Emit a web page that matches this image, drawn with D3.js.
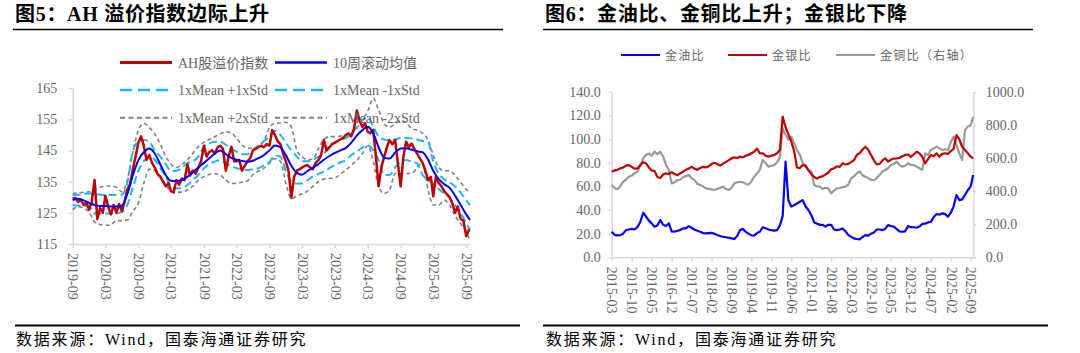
<!DOCTYPE html>
<html>
<head>
<meta charset="utf-8">
<script src="https://cdn.jsdelivr.net/npm/d3@7"></script>
<style>
  body { margin: 0; background: #fff; }
  svg text { font-family: "Liberation Serif", "Noto Sans CJK SC", serif; }
  .tick text { font-size: 14px; fill: #666; }
  .axis path, .axis line { stroke: #d9d9d9; stroke-width: 1.5; }
  .legend-text { font-size: 14px; fill: #666; }
  .legend-text-r { font-size: 12px; fill: #666; letter-spacing: 1.3px; }
  .title { font-size: 20px; font-weight: bold; fill: #000; letter-spacing: 0.7px; }
  .source { font-size: 16px; fill: #000; letter-spacing: 1.8px; }
</style>
</head>
<body>
<div id="chart"></div>
<script>
// ---------- Fig 5: AH premium index (2019-09 .. 2025-09) ----------
// red series, two readings per month (1st, 16th) + last print
const ahIndex = [
  129.5,129.8, 128.5,129.2, 127.5,128.3, 126.0,128.5,
  135.5,123.0, 126.5,125.0, 130.5,127.0, 124.5,127.5, 125.0,127.8, 125.5,128.5, 132.5,134.0, 139.0,143.0, 147.5,149.5, 146.5,142.0, 143.5,141.0, 139.5,137.5,
  136.5,135.0, 133.5,134.5, 132.0,131.5, 135.5,134.0, 136.0,135.5, 140.5,137.0, 138.5,137.5, 139.5,141.5, 146.5,143.0, 144.5,145.0, 144.0,146.0, 146.5,145.5,
  138.5,143.0, 146.2,141.5, 141.5,142.0, 138.5,140.0, 141.5,142.5, 145.0,145.5, 146.0,146.5, 146.0,147.0, 146.5,151.5, 150.0,148.0, 147.0,144.0, 141.5,138.5,
  129.8,136.5, 138.5,139.0, 139.5,140.0, 140.3,139.5, 139.0,141.0, 141.9,143.5, 148.3,145.0, 146.0,147.0, 147.5,148.0, 148.5,149.0, 150.0,150.5, 149.5,152.0,
  157.8,154.5, 152.5,153.7, 151.0,150.5, 151.5,143.0, 133.5,139.5, 143.0,146.0, 148.3,147.0, 148.3,141.0, 133.5,143.0, 147.8,146.0, 147.2,145.5, 144.0,142.5,
  141.0,138.5, 135.5,136.5, 130.3,136.5, 134.5,133.5, 132.0,131.0, 130.0,128.0, 125.0,127.0, 123.0,122.5, 117.5,119.5,
  119.5
];
// monthly readings 2019-09 .. 2025-09 + last print
const ma10w = [
  129.1,129.5,129.0,128.2,
  127.5,127.2,127.2,127.0,127.0,127.3,131.0,137.0,141.9,144.4,145.6,144.0,
  140.5,137.0,135.3,135.2,135.5,136.5,138.0,139.5,141.0,142.5,144.0,145.0,
  143.8,142.6,142.0,141.6,141.4,141.7,142.5,143.5,145.0,146.6,146.0,143.5,
  140.0,137.8,137.2,138.4,139.5,140.6,142.0,143.2,144.2,145.0,145.8,147.5,
  149.8,151.5,152.6,150.5,146.0,142.7,142.4,144.3,145.6,145.7,145.2,144.7,
  144.4,142.0,138.5,135.8,134.2,133.0,130.5,127.5,124.5,
  122.7
];
const plus1Std = [
  130.7,130.8,131.0,131.2,
  131.0,130.8,130.7,130.7,130.7,130.8,134.5,144.8,147.8,148.3,147.8,145.0,
  143.0,140.5,138.4,138.5,139.5,140.9,141.5,143.0,146.2,147.3,147.8,147.8,
  146.8,145.5,144.6,143.8,143.8,145.1,146.5,148.0,149.4,151.3,150.0,147.5,
  145.0,143.0,141.5,141.5,142.0,143.0,144.0,146.5,147.5,148.3,149.0,150.2,
  152.5,154.7,155.8,152.6,149.5,148.5,148.3,148.5,149.0,149.0,148.8,148.5,
  148.0,147.5,141.5,137.5,135.8,134.8,133.4,131.5,129.0,
  127.5
];
const minus1Std = [
  127.5,127.3,127.2,127.0,
  124.8,124.8,124.8,124.8,124.8,125.3,127.5,133.0,138.5,141.5,143.0,142.0,
  139.3,136.5,133.6,132.8,133.0,133.9,135.5,137.2,139.3,140.6,141.4,141.9,
  140.8,140.0,139.3,139.0,138.7,139.0,139.3,140.2,141.3,143.3,143.0,138.5,
  135.0,134.4,134.4,135.5,136.6,137.5,138.2,139.3,140.3,141.2,141.9,143.5,
  144.6,146.0,146.7,145.0,141.9,137.1,137.1,139.5,141.4,141.9,141.4,140.9,
  137.1,135.5,134.4,132.6,131.2,129.8,127.5,125.0,121.6,
  119.5
];
const plus2Std = [
  131.2,131.4,131.6,131.7,
  132.5,133.2,133.6,133.5,133.2,131.7,135.5,144.5,151.5,153.7,152.3,150.3,
  147.0,143.0,140.7,139.5,140.5,142.0,144.0,146.2,147.6,148.5,149.4,150.3,
  151.0,150.5,149.0,146.7,145.8,145.7,146.5,148.0,152.3,153.7,153.8,154.0,
  152.5,145.0,143.0,142.0,142.2,145.5,148.5,149.4,149.4,149.6,150.0,150.5,
  152.0,155.0,157.5,161.7,158.0,153.5,152.5,153.5,154.5,154.0,152.0,151.5,
  150.5,148.3,143.5,139.5,138.5,138.5,137.0,134.8,132.5,
  131.5
];
const minus2Std = [
  126.0,127.0,126.5,125.3,
  122.0,121.2,121.0,121.2,122.5,122.5,122.7,125.5,128.1,134.5,139.0,138.5,
  136.6,134.0,131.8,131.5,131.7,132.3,133.5,135.5,136.6,137.3,137.5,137.1,
  135.5,134.4,134.5,134.8,135.2,137.2,138.3,139.3,140.9,142.3,141.5,134.5,
  129.5,130.5,131.0,132.0,133.5,135.0,135.8,136.0,136.2,137.4,138.7,140.3,
  141.9,144.0,146.5,141.5,133.5,131.2,132.3,137.6,137.6,137.6,137.6,139.5,
  140.9,132.3,127.5,127.5,129.0,127.5,124.0,121.5,119.0,
  116.0
];
const leftXTicks = ["2019-09","2020-03","2020-09","2021-03","2021-09","2022-03","2022-09",
                    "2023-03","2023-09","2024-03","2024-09","2025-03","2025-09"];
const leftYTicks = [115, 125, 135, 145, 155, 165];

// ---------- Fig 6: gold ratios (2015-03 .. 2025-09, monthly + last print) ----------
const goldOil = [
  21.6,19.0,18.5,18.8,20.0,23.0,23.5,24.0,23.5,25.5,
  30.0,37.7,34.5,31.0,28.7,25.9,27.0,31.5,27.5,26.5,28.7,22.0,
  21.6,22.5,23.0,24.4,24.5,26.4,25.0,23.5,22.5,21.6,20.5,20.2,
  20.5,20.7,20.0,18.8,18.0,17.4,17.0,16.5,16.0,15.5,18.0,23.0,
  24.0,21.5,20.0,18.5,18.3,20.5,21.6,25.4,24.5,23.5,23.0,22.5,
  23.0,27.0,35.0,81.0,48.0,43.0,44.0,45.5,47.0,48.4,43.0,40.0,
  35.8,29.5,28.5,27.5,27.5,26.0,27.5,27.5,23.5,23.0,23.5,24.4,
  22.0,18.8,17.5,16.0,15.5,15.2,17.0,18.8,18.3,20.0,21.0,23.5,
  23.5,23.0,24.0,27.2,26.5,25.9,24.0,22.0,21.6,22.0,26.4,25.5,
  25.4,25.0,26.0,28.2,28.5,29.5,30.0,34.0,36.6,36.0,37.2,36.5,
  34.3,38.0,42.8,52.7,48.4,49.0,52.7,56.9,60.0,
  69.6
];
const goldSilver = [
  72.5,73.5,74.0,75.2,76.0,77.5,78.0,76.5,75.0,75.2,
  78.0,80.5,79.5,76.0,73.5,73.0,68.0,67.0,70.0,71.0,70.5,72.0,
  70.5,69.5,71.0,72.5,74.0,75.0,76.5,75.0,74.0,75.5,76.5,76.0,
  77.0,79.0,80.0,79.0,77.5,79.0,80.5,82.0,83.7,84.5,84.0,85.1,
  84.5,86.0,86.5,88.0,89.3,92.0,88.0,87.9,86.0,85.1,86.0,86.5,
  88.0,91.0,119.0,110.0,104.0,98.0,90.0,76.0,75.5,78.0,77.5,73.5,
  70.5,68.0,66.5,68.0,68.5,70.0,71.5,74.5,75.2,77.0,76.5,79.5,
  78.5,79.0,80.5,82.0,86.5,88.0,91.0,93.5,91.0,86.5,82.0,78.5,
  79.0,82.0,83.7,81.0,82.5,83.5,83.7,84.0,85.5,86.5,87.0,85.0,
  87.0,89.3,87.9,85.0,79.5,83.0,86.5,85.5,87.9,85.0,87.5,88.0,
  87.5,90.0,91.5,103.4,100.0,93.5,90.7,88.0,85.1,
  83.7
];
const goldCopper = [
  438,420,412,430,458,470,488,495,510,518,
  555,600,620,630,615,640,625,640,610,560,529,448,
  455,468,470,485,492,498,480,468,445,438,430,418,
  415,412,408,415,420,428,415,408,420,448,455,458,
  455,445,440,460,488,508,530,590,570,549,555,559,
  575,610,782,741,712,731,692,650,620,570,549,529,
  520,438,430,428,415,420,418,388,405,418,420,425,
  428,440,478,490,508,520,498,488,480,470,468,480,
  500,520,529,540,559,565,580,560,549,555,570,560,
  559,549,540,530,630,620,650,660,671,660,650,655,
  650,700,731,680,630,590,771,792,800,
  852
];
const rightXTicks = ["2015-03","2015-10","2016-05","2016-12","2017-07","2018-02","2018-09",
                     "2019-04","2019-11","2020-06","2021-01","2021-08","2022-03","2022-10",
                     "2023-05","2023-12","2024-07","2025-02","2025-09"];
const rightYTicks = [0, 20, 40, 60, 80, 100, 120, 140];
const rightY2Ticks = [0, 200, 400, 600, 800, 1000];

// ---------- dates ----------
const parseMonth = d3.timeParse("%Y-%m");
const leftStart = new Date(2019, 8, 1);
const leftEnd = new Date(2025, 8, 22);
const monthDatesL = d3.range(73).map(i => d3.timeMonth.offset(leftStart, i)).concat([leftEnd]);
const ahDates = d3.range(146)
  .map(k => d3.timeDay.offset(d3.timeMonth.offset(leftStart, Math.floor(k / 2)), k % 2 ? 15 : 0))
  .concat([leftEnd]);
const rightStart = new Date(2015, 2, 1);
const monthDatesR = d3.range(127).map(i => d3.timeMonth.offset(rightStart, i)).concat([new Date(2025, 8, 26)]);

const W = 1080, H = 353;
const svg = d3.select("#chart").append("svg")
  .attr("width", W).attr("height", H)
  .attr("viewBox", `0 0 ${W} ${H}`);

// titles & source lines
const titles = [
  { x: 15, text: "图5：AH 溢价指数边际上升", lineX: [13, 503], footX: [15, 520] },
  { x: 545, text: "图6：金油比、金铜比上升；金银比下降", lineX: [543, 1033], footX: [543, 1048] }
];
titles.forEach(t => {
  svg.append("text").attr("class", "title").attr("x", t.x).attr("y", 21).text(t.text);
  svg.append("line").attr("x1", t.lineX[0]).attr("x2", t.lineX[1]).attr("y1", 29.5).attr("y2", 29.5)
    .attr("stroke", "#000").attr("stroke-width", 1.5);
  svg.append("line").attr("x1", t.footX[0]).attr("x2", t.footX[1]).attr("y1", 325.5).attr("y2", 325.5)
    .attr("stroke", "#000").attr("stroke-width", 2);
  svg.append("text").attr("class", "source").attr("x", t.x + 1).attr("y", 345)
    .text("数据来源：Wind，国泰海通证券研究");
});

function styleXLabels(axisG, pad) {
  axisG.selectAll(".tick text")
    .attr("transform", "rotate(90)")
    .attr("x", pad).attr("y", 0).attr("dy", "0.35em")
    .style("text-anchor", "start");
}

// ===== left chart =====
const gL = svg.append("g");
const xL = d3.scaleTime().domain([leftStart, leftEnd]).range([72.7, 470]);
const yL = d3.scaleLinear().domain([115, 165]).range([244, 88]);

gL.append("g").attr("class", "axis")
  .attr("transform", "translate(72.7,0)")
  .call(d3.axisLeft(yL).tickValues(leftYTicks).tickSize(4).tickSizeOuter(0).tickPadding(11.5).tickFormat(d3.format("d")));
const xAxisL = gL.append("g").attr("class", "axis")
  .attr("transform", "translate(0,244)")
  .call(d3.axisBottom(xL).tickValues(leftXTicks.map(parseMonth)).tickSize(4).tickSizeOuter(0)
    .tickFormat(d3.timeFormat("%Y-%m")));
styleXLabels(xAxisL, 9);

const lineL = d3.line().x(d => xL(d[0])).y(d => yL(d[1]));
const smoothL = d3.line().x(d => xL(d[0])).y(d => yL(d[1])).curve(d3.curveMonotoneX);
const zipL = arr => arr.map((v, i) => [monthDatesL[i], v]);

const bandSeries = [
  { data: minus2Std, color: "#808080", width: 1.6, dash: "4,3" },
  { data: plus2Std, color: "#808080", width: 1.6, dash: "4,3" },
  { data: minus1Std, color: "#1ab8f0", width: 2, dash: "8,4" },
  { data: plus1Std, color: "#1ab8f0", width: 2, dash: "8,4" }
];
bandSeries.forEach(s => {
  gL.append("path").attr("d", smoothL(zipL(s.data)))
    .attr("fill", "none").attr("stroke", s.color)
    .attr("stroke-width", s.width).attr("stroke-dasharray", s.dash);
});
gL.append("path").attr("d", lineL(ahIndex.map((v, i) => [ahDates[i], v])))
  .attr("fill", "none").attr("stroke", "#c00000").attr("stroke-width", 2.5).attr("stroke-linejoin", "round");
gL.append("path").attr("d", smoothL(zipL(ma10w)))
  .attr("fill", "none").attr("stroke", "#0000ff").attr("stroke-width", 2);

// left legend
const legendL = [
  { label: "AH股溢价指数", color: "#c00000", width: 3, dash: null, col: 0, row: 0 },
  { label: "10周滚动均值", color: "#0000ff", width: 2.5, dash: null, col: 1, row: 0 },
  { label: "1xMean +1xStd", color: "#1ab8f0", width: 2.5, dash: "12,6", col: 0, row: 1 },
  { label: "1xMean -1xStd", color: "#1ab8f0", width: 2.5, dash: "12,6", col: 1, row: 1 },
  { label: "1xMean +2xStd", color: "#808080", width: 2, dash: "5,3.5", col: 0, row: 2 },
  { label: "1xMean -2xStd", color: "#808080", width: 2, dash: "5,3.5", col: 1, row: 2 }
];
legendL.forEach(l => {
  const lx = 120 + l.col * 155, ly = 62.5 + l.row * 27.6;
  gL.append("line").attr("x1", lx).attr("x2", lx + 52).attr("y1", ly).attr("y2", ly)
    .attr("stroke", l.color).attr("stroke-width", l.width).attr("stroke-dasharray", l.dash);
  gL.append("text").attr("class", "legend-text").attr("x", lx + 58).attr("y", ly + 5).text(l.label);
});

// ===== right chart =====
const gR = svg.append("g");
const xR = d3.scaleTime().domain([rightStart, new Date(2025, 8, 28)]).range([611.7, 973.3]);
const yR = d3.scaleLinear().domain([0, 140]).range([257.3, 91.8]);
const yR2 = d3.scaleLinear().domain([0, 1000]).range([257.3, 92.3]);

gR.append("g").attr("class", "axis")
  .attr("transform", "translate(611.7,0)")
  .call(d3.axisLeft(yR).tickValues(rightYTicks).tickSize(3).tickSizeOuter(0).tickPadding(8).tickFormat(d3.format(".1f")));
gR.append("g").attr("class", "axis")
  .attr("transform", "translate(973.3,0)")
  .call(d3.axisRight(yR2).tickValues(rightY2Ticks).tickSize(3).tickSizeOuter(0).tickPadding(9.5).tickFormat(d3.format(".1f")));
const xAxisR = gR.append("g").attr("class", "axis")
  .attr("transform", "translate(0,257.3)")
  .call(d3.axisBottom(xR).tickValues(rightXTicks.map(parseMonth)).tickSize(4).tickSizeOuter(0)
    .tickFormat(d3.timeFormat("%Y-%m")));
styleXLabels(xAxisR, 9.5);

const zipR = arr => arr.map((v, i) => [monthDatesR[i], v]);
const lineR = d3.line().x(d => xR(d[0])).y(d => yR(d[1]));
const lineR2 = d3.line().x(d => xR(d[0])).y(d => yR2(d[1]));

gR.append("path").attr("d", lineR2(zipR(goldCopper)))
  .attr("fill", "none").attr("stroke", "#999999").attr("stroke-width", 2.2).attr("stroke-linejoin", "round");
gR.append("path").attr("d", lineR(zipR(goldSilver)))
  .attr("fill", "none").attr("stroke", "#c00000").attr("stroke-width", 2.2).attr("stroke-linejoin", "round");
gR.append("path").attr("d", lineR(zipR(goldOil)))
  .attr("fill", "none").attr("stroke", "#0000ff").attr("stroke-width", 2.2).attr("stroke-linejoin", "round");

const legendR = [
  { label: "金油比", color: "#0000ff", x: 621 },
  { label: "金银比", color: "#c00000", x: 728 },
  { label: "金铜比（右轴）", color: "#999999", x: 836 }
];
legendR.forEach(l => {
  gR.append("line").attr("x1", l.x).attr("x2", l.x + 39).attr("y1", 55).attr("y2", 55)
    .attr("stroke", l.color).attr("stroke-width", 2.2);
  gR.append("text").attr("class", "legend-text-r").attr("x", l.x + 44).attr("y", 59.5).text(l.label);
});
</script>
</body>
</html>
